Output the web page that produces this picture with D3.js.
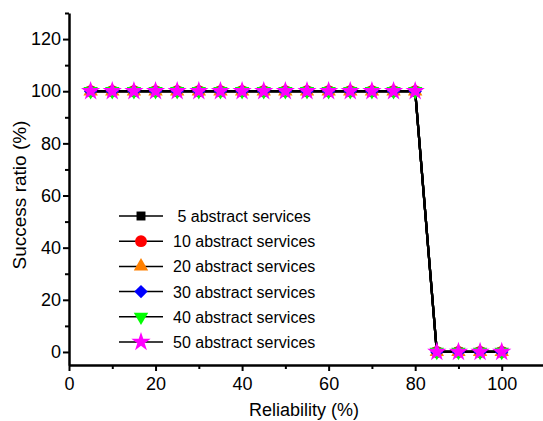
<!DOCTYPE html>
<html>
<head>
<meta charset="utf-8">
<script src="https://cdn.jsdelivr.net/npm/d3@7"></script>
<style>
body { margin: 0; background: #fff; }
text { font-family: "Liberation Sans", Arial, sans-serif; }
</style>
</head>
<body>
<script>
// reliability values on the x axis
const reliability = [5, 10, 15, 20, 25, 30, 35, 40, 45, 50, 55, 60, 65, 70, 75, 80, 85, 90, 95, 100]
// success ratio, same for every series
const ratio5  = [100, 100, 100, 100, 100, 100, 100, 100, 100, 100, 100, 100, 100, 100, 100, 100, 0, 0, 0, 0]
const ratio10 = [100, 100, 100, 100, 100, 100, 100, 100, 100, 100, 100, 100, 100, 100, 100, 100, 0, 0, 0, 0]
const ratio20 = [100, 100, 100, 100, 100, 100, 100, 100, 100, 100, 100, 100, 100, 100, 100, 100, 0, 0, 0, 0]
const ratio30 = [100, 100, 100, 100, 100, 100, 100, 100, 100, 100, 100, 100, 100, 100, 100, 100, 0, 0, 0, 0]
const ratio40 = [100, 100, 100, 100, 100, 100, 100, 100, 100, 100, 100, 100, 100, 100, 100, 100, 0, 0, 0, 0]
const ratio50 = [100, 100, 100, 100, 100, 100, 100, 100, 100, 100, 100, 100, 100, 100, 100, 100, 0, 0, 0, 0]
const seriesNames = [" 5 abstract services", "10 abstract services", "20 abstract services",
                     "30 abstract services", "40 abstract services", "50 abstract services"]
const xTicks = [0, 20, 40, 60, 80, 100]
const yTicks = [0, 20, 40, 60, 80, 100, 120]

const series = [
    { name: seriesNames[0], values: ratio5,  shape: d3.symbolSquare,   color: "#000000", rot: 0,   size: 80 },
    { name: seriesNames[1], values: ratio10, shape: d3.symbolCircle,   color: "#ff0000", rot: 0,   size: 110 },
    { name: seriesNames[2], values: ratio20, shape: d3.symbolTriangle, color: "#ff8000", rot: 0,   size: 90 },
    { name: seriesNames[3], values: ratio30, shape: d3.symbolSquare,   color: "#0000ff", rot: 45,  size: 90 },
    { name: seriesNames[4], values: ratio40, shape: d3.symbolTriangle, color: "#00ff00", rot: 180, size: 90 },
    { name: seriesNames[5], values: ratio50, shape: d3.symbolStar,     color: "#ff00ff", rot: 0,   size: 115 }
]

const width = 543, height = 421
const svg = d3.select("body").append("svg")
    .attr("width", width)
    .attr("height", height)

const x = d3.scaleLinear().domain([0, 110]).range([69, 545])
const y = d3.scaleLinear().domain([-5, 130]).range([365, 13])

// axes with minor ticks
const xMinor = d3.range(10, 111, 20)
const yMinor = d3.range(10, 131, 20)

const gx = svg.append("g").attr("transform", "translate(0," + y(-5) + ")")
gx.call(d3.axisBottom(x).tickValues(xTicks).tickSize(6).tickPadding(6).tickSizeOuter(0))
gx.append("g").call(d3.axisBottom(x).tickValues(xMinor).tickSize(4).tickFormat(""))
    .select(".domain").remove()

const gy = svg.append("g").attr("transform", "translate(" + x(0) + ",0)")
gy.call(d3.axisLeft(y).tickValues(yTicks).tickSize(6).tickPadding(2).tickSizeOuter(0))
gy.append("g").call(d3.axisLeft(y).tickValues(yMinor).tickSize(4).tickFormat(""))
    .select(".domain").remove()

svg.selectAll(".domain").attr("stroke-width", 2.5)
svg.selectAll(".tick line").attr("stroke-width", 2)
svg.selectAll(".tick text").attr("font-size", 18).attr("fill", "#000")
    .attr("font-family", "Liberation Sans, Arial, sans-serif")

// axis titles
svg.append("text")
    .attr("x", 304).attr("y", 416)
    .attr("text-anchor", "middle")
    .attr("font-size", 18)
    .text("Reliability (%)")

svg.append("text")
    .attr("transform", "translate(26,195) rotate(-90)")
    .attr("text-anchor", "middle")
    .attr("font-size", 19)
    .text("Success ratio (%)")

// lines and markers
const line = d3.line()
    .x(function(d) { return x(d[0]) })
    .y(function(d) { return y(d[1]) })

series.forEach(function(s) {
    const pts = reliability.map(function(r, i) { return [r, s.values[i]] })
    svg.append("path")
        .attr("d", line(pts))
        .attr("fill", "none")
        .attr("stroke", "#000")
        .attr("stroke-width", 2.2)
})

series.forEach(function(s) {
    const pts = reliability.map(function(r, i) { return [r, s.values[i]] })
    svg.append("g").selectAll("path")
        .data(pts)
        .enter()
        .append("path")
            .attr("d", d3.symbol().type(s.shape).size(s.size))
            .attr("fill", s.color)
            .attr("transform", function(d) {
                return "translate(" + x(d[0]) + "," + y(d[1]) + ") rotate(" + s.rot + ")"
            })
})

// legend
const legend = svg.append("g")
series.forEach(function(s, i) {
    const ly = 216 + i * 25.2
    legend.append("line")
        .attr("x1", 119).attr("x2", 163)
        .attr("y1", ly).attr("y2", ly)
        .attr("stroke", "#000").attr("stroke-width", 1.5)
    legend.append("path")
        .attr("d", d3.symbol().type(s.shape).size(s.size))
        .attr("fill", s.color)
        .attr("transform", "translate(141," + ly + ") rotate(" + s.rot + ")")
    legend.append("text")
        .attr("x", 173).attr("y", ly + 6)
        .attr("font-size", 16)
        .attr("xml:space", "preserve")
        .style("white-space", "pre")
        .text(s.name)
})
</script>
</body>
</html>
